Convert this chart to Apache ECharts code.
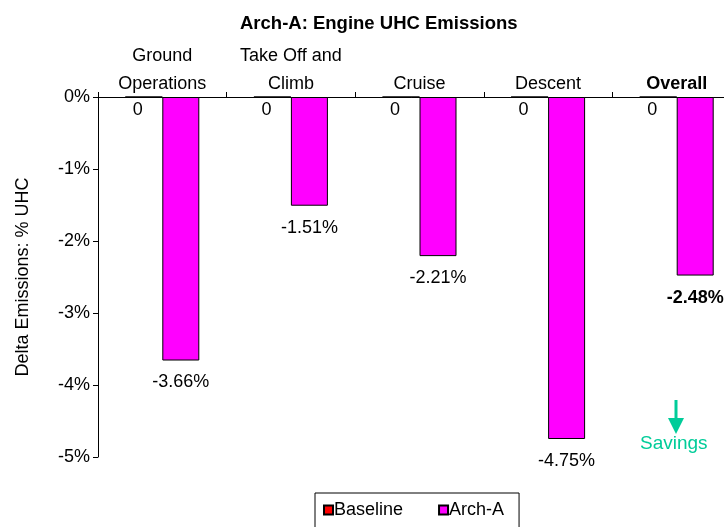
<!DOCTYPE html>
<html>
<head>
<meta charset="utf-8">
<script src="https://cdn.jsdelivr.net/npm/echarts@6/dist/echarts.min.js"></script>
<style>
  html, body { margin: 0; padding: 0; background: #fff; }
  #chart { width: 724px; height: 527px; }
</style>
</head>
<body>
<div id="chart"></div>
<script>
// 数据
const categories = ['Ground\nOperations', 'Take Off and\nClimb', 'Cruise', 'Descent', 'Overall']
const baseline = [0, 0, 0, 0, 0]
const archA = [-3.66, -1.51, -2.21, -4.75, -2.48]
const yTicks = [-5, -4, -3, -2, -1, 0]

const font = '"Liberation Sans", Arial, sans-serif'
const myChart = echarts.init(document.getElementById('chart'))

const chartOption = {
  animation: false,
  textStyle: { fontFamily: font },
  title: {
    text: 'Arch-A: Engine UHC Emissions',
    left: 235,
    top: 9,
    textStyle: { fontSize: 18.5, fontWeight: 'bold', color: '#000', fontFamily: font }
  },
  // 绘图区右侧超出画布
  grid: { left: 98, top: 97, bottom: 70, width: 643, outerBoundsMode: 'none' },
  legend: {
    left: 315,
    top: 493,
    padding: [8, 15, 14, 8],
    borderColor: '#000',
    borderWidth: 1,
    itemWidth: 9,
    itemHeight: 9,
    itemGap: 35,
    icon: 'rect',
    textStyle: { fontSize: 18, color: '#000', padding: [0, 0, 0, -4], fontFamily: font },
    data: ['Baseline', 'Arch-A']
  },
  xAxis: {
    type: 'category',
    position: 'top',
    data: categories.map(c => c === 'Overall'
      ? { value: c, textStyle: { fontWeight: 'bold' } }
      : c),
    axisLine: { lineStyle: { color: '#000', width: 1 } },
    axisTick: { show: true, length: 5, lineStyle: { color: '#000' } },
    axisLabel: { fontSize: 18, color: '#000', margin: -1, lineHeight: 28, interval: 0, fontFamily: font },
    splitLine: { show: false }
  },
  yAxis: {
    type: 'value',
    min: yTicks[0],
    max: yTicks[yTicks.length - 1],
    interval: 1,
    name: 'Delta Emissions: % UHC',
    nameLocation: 'middle',
    nameRotate: 90,
    nameGap: 66,
    nameTextStyle: { fontSize: 18, color: '#000', fontFamily: font },
    axisLine: { show: true, lineStyle: { color: '#000', width: 1 } },
    axisTick: { show: true, length: 5, lineStyle: { color: '#000' } },
    axisLabel: { fontSize: 18, color: '#000', margin: 8, fontFamily: font, formatter: v => v + '%' },
    splitLine: { show: false }
  },
  series: [
    {
      name: 'Baseline',
      type: 'bar',
      data: baseline,
      barWidth: 37,
      barGap: '0%',
      itemStyle: { color: '#ff0000', borderColor: '#000', borderWidth: 1 },
      label: { show: true, position: 'bottom', distance: 4, offset: [-6, 0], fontSize: 18, color: '#000', fontFamily: font, formatter: '{c}' }
    },
    {
      name: 'Arch-A',
      type: 'bar',
      data: archA.map((v, i) => i === archA.length - 1
        ? { value: v, label: { fontWeight: 'bold' } }
        : v),
      barWidth: 37,
      itemStyle: { color: '#ff00ff', borderColor: '#000', borderWidth: 1 },
      label: {
        show: true,
        position: 'bottom',
        distance: 13,
        fontSize: 18,
        color: '#000',
        fontFamily: font,
        formatter: p => p.value.toFixed(2) + '%'
      }
    }
  ],
  graphic: [
    { type: 'line', shape: { x1: 676, y1: 400, x2: 676, y2: 420 }, style: { stroke: '#00cc99', lineWidth: 3 } },
    { type: 'polygon', shape: { points: [[668, 418], [684, 418], [676, 434]] }, style: { fill: '#00cc99' } },
    { type: 'text', left: 640, top: 434, style: { text: 'Savings', fill: '#00cc99', font: '19px ' + font } }
  ]
}

myChart.setOption(chartOption)
window.addEventListener('resize', myChart.resize)
</script>
</body>
</html>
